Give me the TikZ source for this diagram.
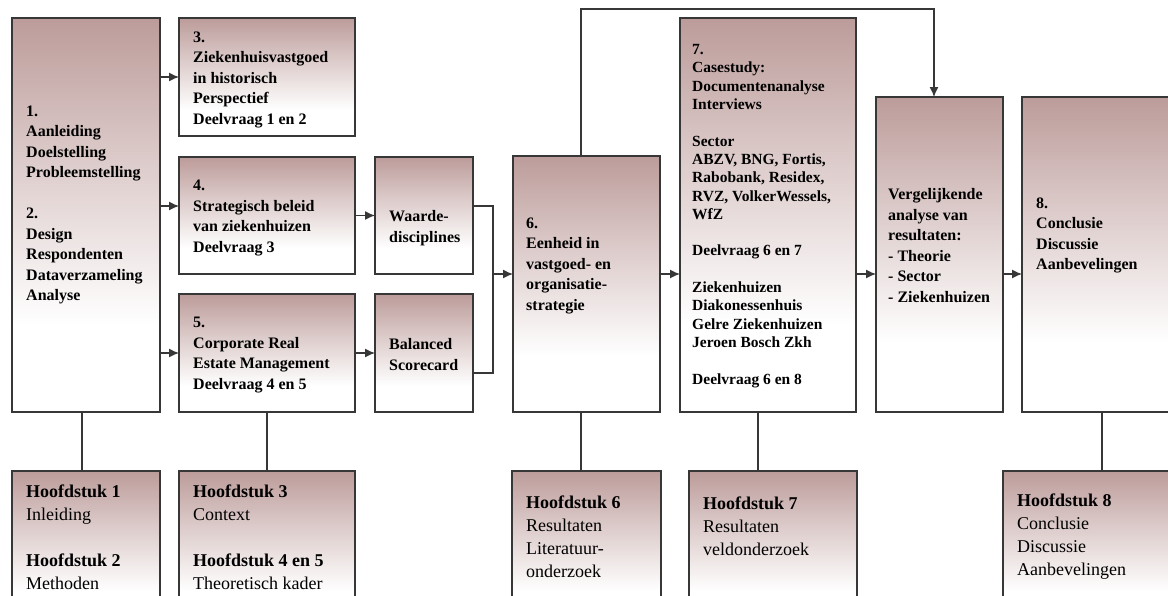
\documentclass[tikz,border=0pt]{standalone}
\usepackage{fontspec}
\setmainfont{Liberation Serif}
\usetikzlibrary{arrows.meta}

\definecolor{rosetop}{RGB}{188,156,154}
\definecolor{framegray}{RGB}{55,55,55}
% fades from the rose tint at the top to white in the lower fifth
\pgfdeclareverticalshading{boxfade}{100bp}{color(0bp)=(white); color(36bp)=(white); color(58bp)=(rosetop!55!white); color(75bp)=(rosetop); color(100bp)=(rosetop)}

\tikzset{
  panel/.style={draw=framegray, line width=1.3pt, shade, shading=boxfade,
                inner sep=0pt, outer sep=0pt},
  toptext/.style={anchor=west, align=left, inner sep=0pt,
                  font=\fontsize{16}{20.5}\selectfont\bfseries},
  casetext/.style={anchor=west, align=left, inner sep=0pt,
                   font=\fontsize{15.5}{18.3}\selectfont\bfseries},
  chaptext/.style={anchor=west, align=left, inner sep=0pt,
                   font=\fontsize{18}{23}\selectfont},
  link/.style={draw=framegray, line width=1.3pt},
  flow/.style={link, -{Latex[length=10pt,width=9pt]}}
}

\begin{document}
\begin{tikzpicture}[x=1pt, y=-1pt]
\useasboundingbox (0,0) rectangle (1168,595);
\clip (0,0) rectangle (1168,595);

% upper row of boxes
\node[panel, minimum width=148pt, minimum height=394pt] (b1) at (86,215) {};
\node[panel, minimum width=176pt, minimum height=118pt] (b3) at (267,77) {};
\node[panel, minimum width=176pt, minimum height=117pt] (b4) at (267,215.5) {};
\node[panel, minimum width=176pt, minimum height=118pt] (b5) at (267,353) {};
\node[panel, minimum width=98pt, minimum height=117pt] (bw) at (424,215.5) {};
\node[panel, minimum width=98pt, minimum height=118pt] (bb) at (424,353) {};
\node[panel, minimum width=147pt, minimum height=256pt] (b6) at (586.5,284) {};
\node[panel, minimum width=176pt, minimum height=394pt] (b7) at (768,215) {};
\node[panel, minimum width=127pt, minimum height=315pt] (bv) at (939.5,254.5) {};
\node[panel, minimum width=160pt, minimum height=315pt] (b8) at (1102,254.5) {};

% chapter boxes along the bottom
\node[panel, minimum width=148pt, minimum height=154pt] (h1) at (86,548) {};
\node[panel, minimum width=176pt, minimum height=154pt] (h3) at (267,548) {};
\node[panel, minimum width=149pt, minimum height=154pt] (h6) at (586.5,548) {};
\node[panel, minimum width=168pt, minimum height=154pt] (h7) at (773,548) {};
\node[panel, minimum width=198pt, minimum height=154pt] (h8) at (1102,548) {};

% box texts
\node[toptext] (t1) at (26,205) {1.\\Aanleiding\\Doelstelling\\Probleemstelling\\[20.5pt]2.\\Design\\Respondenten\\Dataverzameling\\Analyse};
\node[toptext] (t3) at (193,79.5) {3.\\Ziekenhuisvastgoed\\in historisch\\Perspectief\\Deelvraag 1 en 2};
\node[toptext] (t4) at (193,218) {4.\\Strategisch beleid\\van ziekenhuizen\\Deelvraag 3};
\node[toptext] (t5) at (193,355) {5.\\Corporate Real\\Estate Management\\Deelvraag 4 en 5};
\node[toptext] (tw) at (389,228) {Waarde-\\disciplines};
\node[toptext] (tb) at (389,354.5) {Balanced\\Scorecard};
\node[toptext] (t6) at (526,265.5) {6.\\Eenheid in\\vastgoed- en\\organisatie-\\strategie};
\node[casetext] (t7) at (692,216) {7.\\Casestudy:\\Documentenanalyse\\Interviews\\[18.3pt]Sector\\ABZV, BNG, Fortis,\\Rabobank, Residex,\\RVZ, VolkerWessels,\\WfZ\\[18.3pt]Deelvraag 6 en 7\\[18.3pt]Ziekenhuizen\\Diakonessenhuis\\Gelre Ziekenhuizen\\Jeroen Bosch Zkh\\[18.3pt]Deelvraag 6 en 8};
\node[toptext] (tv) at (888,245.5) {Vergelijkende\\analyse van\\resultaten:\\- Theorie\\- Sector\\- Ziekenhuizen};
\node[toptext] (t8) at (1036,235.5) {8.\\Conclusie\\Discussie\\Aanbevelingen};

\node[chaptext] (c1) at (26,537) {\textbf{Hoofdstuk 1}\\Inleiding\\[23pt]\textbf{Hoofdstuk 2}\\Methoden};
\node[chaptext] (c3) at (193,537) {\textbf{Hoofdstuk 3}\\Context\\[23pt]\textbf{Hoofdstuk 4 en 5}\\Theoretisch kader};
\node[chaptext] (c6) at (526,537) {\textbf{Hoofdstuk 6}\\Resultaten\\Literatuur-\\onderzoek};
\node[chaptext] (c7) at (703,526.5) {\textbf{Hoofdstuk 7}\\Resultaten\\veldonderzoek};
\node[chaptext] (c8) at (1017,537) {\textbf{Hoofdstuk 8}\\Conclusie\\Discussie\\Aanbevelingen};

% reference points for connectors that run off-centre
\coordinate (a4) at ([yshift=9.5pt]b4.west);
\coordinate (wout) at ([yshift=9.5pt]bw.east);
\coordinate (bout) at ([yshift=-20pt]bb.east);
\coordinate (join) at (493,274);
\coordinate (feedup) at (581,9);
\coordinate (feeddown) at (934,9);
\coordinate (x1) at (82,0);
\coordinate (x5) at (267,0);
\coordinate (x6) at (581,0);
\coordinate (x7) at (758,0);
\coordinate (x8) at (1102,0);

% flow arrows
\draw[flow] (b1.east |- b3.west) -- (b3.west);
\draw[flow] (b1.east |- a4) -- (a4);
\draw[flow] (b1.east |- b5.west) -- (b5.west);
\draw[flow] (b4.east) -- (bw.west);
\draw[flow] (b5.east) -- (bb.west);
\draw[link] (wout) -| (join |- bout) -- (bout);
\draw[flow] (join) -- (b6.west |- join);
\draw[flow] (b6.east |- join) -- (b7.west |- join);
\draw[flow] (b7.east |- join) -- (bv.west |- join);
\draw[flow] (bv.east |- join) -- (b8.west |- join);
\draw[flow] (feedup |- b6.north) -- (feedup) -- (feeddown) -- (feeddown |- bv.north);

% chapter links
\draw[link] (x1 |- b1.south) -- (x1 |- h1.north);
\draw[link] (x5 |- b5.south) -- (x5 |- h3.north);
\draw[link] (x6 |- b6.south) -- (x6 |- h6.north);
\draw[link] (x7 |- b7.south) -- (x7 |- h7.north);
\draw[link] (x8 |- b8.south) -- (x8 |- h8.north);
\end{tikzpicture}
\end{document}
